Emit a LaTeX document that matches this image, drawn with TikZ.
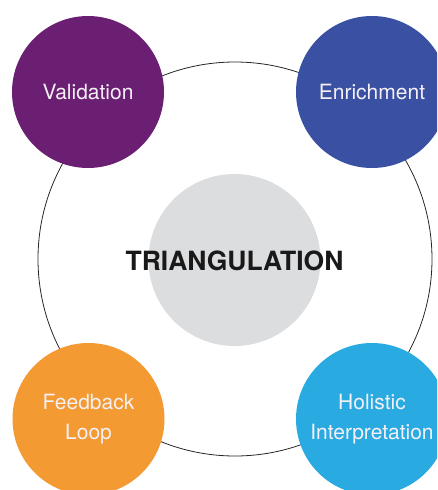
\documentclass[tikz,border=0pt]{standalone}
\usepackage{fontspec}
\setmainfont{TeX Gyre Heros}
\definecolor{cpurple}{HTML}{6B1F72}
\definecolor{cblue}{HTML}{3A50A2}
\definecolor{corange}{HTML}{F39A32}
\definecolor{ccyan}{HTML}{29ABE2}
\definecolor{cgray}{HTML}{DCDDDF}
\definecolor{ctext}{HTML}{F4F0F6}
\begin{document}
\begin{tikzpicture}[x=1pt,y=-1pt,
  bubble/.style={circle,minimum size=152pt,inner sep=0pt,text=ctext,align=center,
    font=\fontsize{21}{30}\selectfont},
  hub/.style={circle,fill=cgray,minimum size=172pt,inner sep=0pt},
  ring/.style={draw=black!85,line width=0.8pt}]
\useasboundingbox (0,0) rectangle (437,490);
\begin{scope}
\clip (0,0) rectangle (437,490);
\node[ring,circle,minimum size=394pt,inner sep=0pt] (ring) at (235,259) {};
\node[hub] (hub) at (234.5,260) {};
\node[font=\fontsize{26.5}{30}\bfseries\selectfont,text=black!90] (title) at (234.5,261) {TRIANGULATION};
\node[bubble,fill=cpurple] (val) at (88,92) {Validation};
\node[bubble,fill=cblue] (enr) at (372,92) {Enrichment};
\node[bubble,fill=corange] (fb) at (88.5,419) {Feedback\\Loop};
\node[bubble,fill=ccyan] (hol) at (372,419) {Holistic\\Interpretation};
\end{scope}
\end{tikzpicture}
\end{document}
